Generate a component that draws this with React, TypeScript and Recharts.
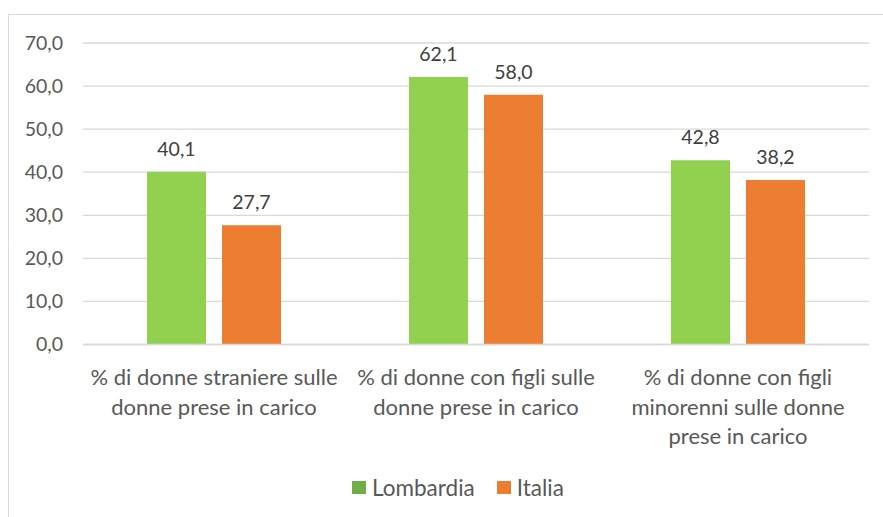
import React from "react";
import { BarChart, Bar, XAxis, YAxis, CartesianGrid, LabelList } from "recharts";

const categories = [
  "% di donne straniere sulle\ndonne prese in carico",
  "% di donne con figli sulle\ndonne prese in carico",
  "% di donne con figli\nminorenni sulle donne\nprese in carico",
];
const lombardia = [40.1, 62.1, 42.8];
const italia = [27.7, 58.0, 38.2];
const yTicks = [0, 10, 20, 30, 40, 50, 60, 70];
const seriesNames = ["Lombardia", "Italia"];
const barColors = ["#92D050", "#ED7D31"];
const legendColors = ["#70AD47", "#ED7D31"];

const data = categories.map((c, i) => ({ cat: c, lombardia: lombardia[i], italia: italia[i] }));

const FONT = "Lato, 'Open Sans', sans-serif";
const fmt = (v: number) => v.toFixed(1).replace(".", ",");

const CatTick = (props: any) => {
  const { x, y, payload } = props;
  const lines = String(payload.value).split("\n");
  return (
    <g transform={`translate(${x},${y})`}>
      <text textAnchor="middle" fill="#595959" fontSize={22} fontFamily={FONT}>
        {lines.map((l: string, i: number) => (
          <tspan key={i} x={0} y={32.5 + i * 29.5}>
            {l}
          </tspan>
        ))}
      </text>
    </g>
  );
};

export default function App() {
  return (
    <div
      style={{
        position: "absolute",
        left: 8,
        top: 14,
        width: 875,
        height: 503,
        borderLeft: "1px solid #d9d9d9",
        borderTop: "1px solid #d9d9d9",
        boxSizing: "border-box",
        overflow: "hidden",
        background: "#fff",
        fontFamily: FONT,
      }}
    >
      <BarChart
        width={874}
        height={502}
        data={data}
        margin={{ top: 28, right: 14, left: 0, bottom: 0 }}
        barSize={59}
        barGap={16}
      >
        <CartesianGrid vertical={false} stroke="#d9d9d9" strokeWidth={1.3} />
        <XAxis
          dataKey="cat"
          height={172.5}
          tickLine={false}
          axisLine={{ stroke: "#d9d9d9", strokeWidth: 1.3 }}
          tick={<CatTick />}
          interval={0}
        />
        <YAxis
          width={74}
          domain={[0, 70]}
          ticks={yTicks}
          tickFormatter={fmt}
          axisLine={false}
          tickLine={false}
          tickSize={0}
          tickMargin={20}
          tick={{ fill: "#595959", fontSize: 19.5, fontFamily: FONT }}
        />
        <Bar dataKey="lombardia" name={seriesNames[0]} fill={barColors[0]} isAnimationActive={false}>
          <LabelList dataKey="lombardia" position="top" offset={16} formatter={fmt} fill="#404040" fontSize={19.5} fontFamily={FONT} />
        </Bar>
        <Bar dataKey="italia" name={seriesNames[1]} fill={barColors[1]} isAnimationActive={false}>
          <LabelList dataKey="italia" position="top" offset={16} formatter={fmt} fill="#404040" fontSize={19.5} fontFamily={FONT} />
        </Bar>
      </BarChart>
      <div
        style={{
          position: "absolute",
          top: 457.5,
          left: 343,
          display: "flex",
          alignItems: "center",
          fontSize: 22.5,
          color: "#595959",
          lineHeight: "30px",
          whiteSpace: "nowrap",
        }}
      >
        {seriesNames.map((n, i) => (
          <div key={n} style={{ display: "flex", alignItems: "center", marginRight: 22 }}>
            <span style={{ display: "inline-block", width: 14, height: 13, background: legendColors[i], marginRight: 6 }} />
            <span>{n}</span>
          </div>
        ))}
      </div>
    </div>
  );
}
